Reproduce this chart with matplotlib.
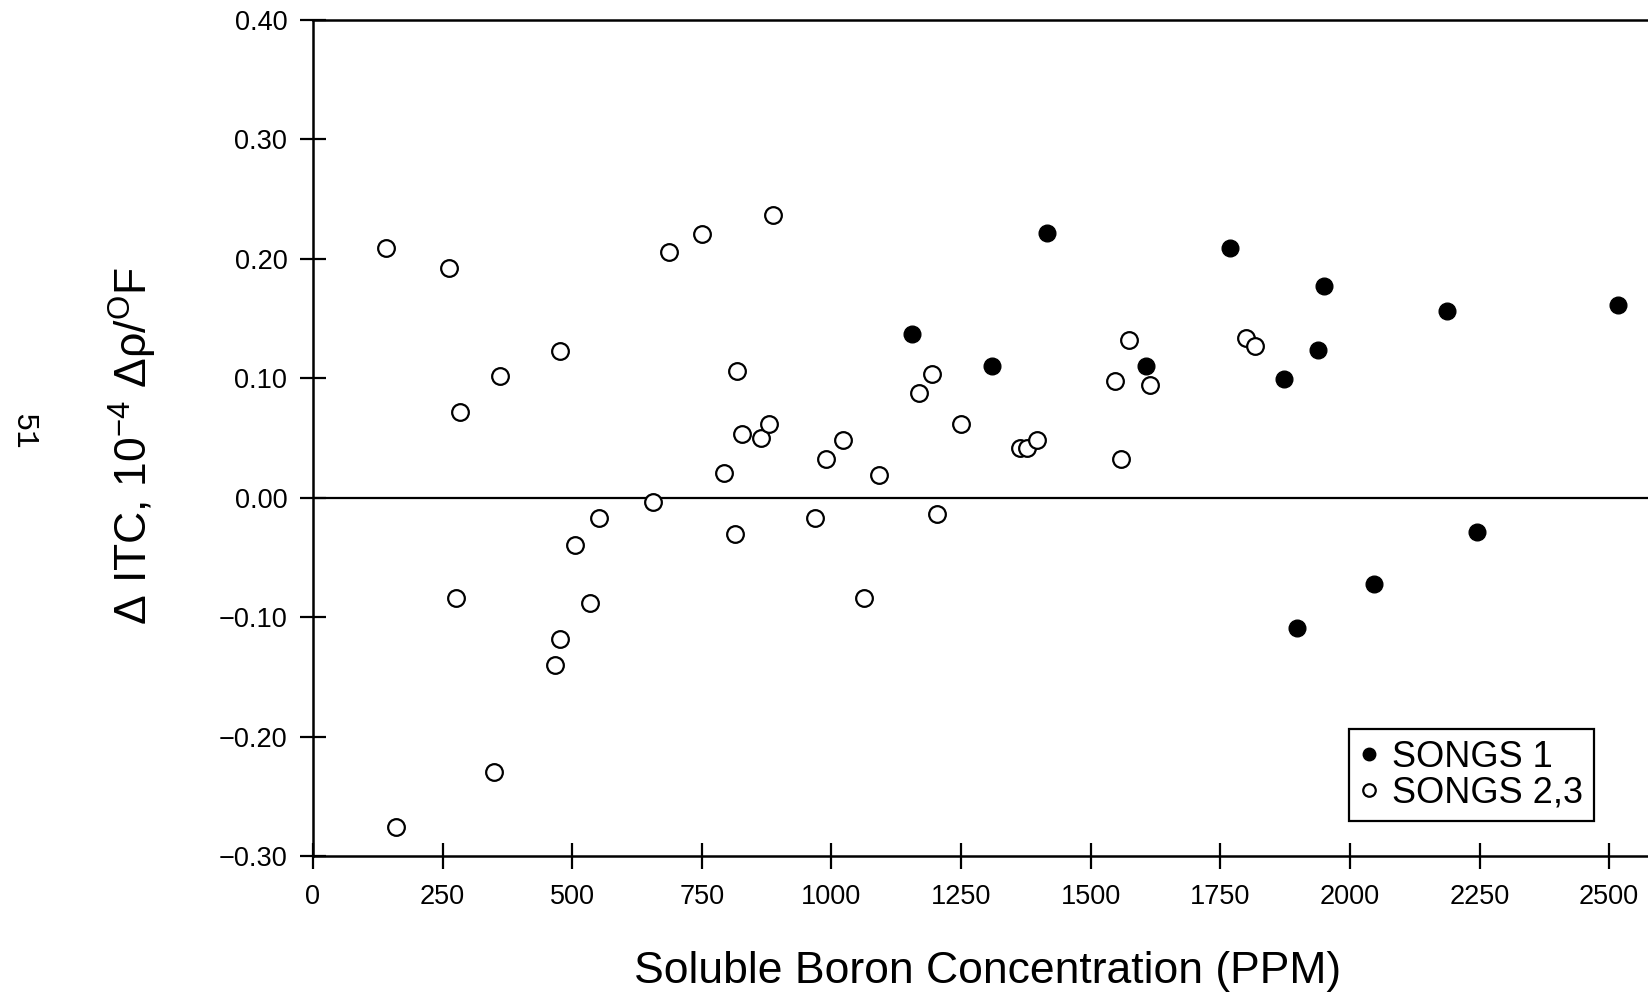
import matplotlib.pyplot as plt

# SONGS 1 (filled) and SONGS 2,3 (open)
songs1_ppm = [1155, 1310, 1416, 1606, 1768, 1872, 1898, 1939, 1950, 2046, 2188, 2245, 2518]
songs1_itc = [0.137, 0.110, 0.222, 0.110, 0.209, 0.099, -0.109, 0.124, 0.177, -0.072, 0.156, -0.029, 0.161]

songs23_ppm = [141, 160, 263, 275, 284, 350, 360, 466, 476, 476, 505, 534, 552, 655, 686,
               750, 793, 814, 817, 828, 864, 879, 888, 968, 990, 1022, 1062, 1092, 1169, 1193,
               1204, 1250, 1364, 1377, 1397, 1546, 1559, 1574, 1615, 1799, 1817]
songs23_itc = [0.209, -0.276, 0.192, -0.084, 0.072, -0.230, 0.102, -0.140, 0.123, -0.118, -0.040, -0.088, -0.017, -0.004, 0.206,
               0.221, 0.021, -0.030, 0.106, 0.053, 0.050, 0.062, 0.237, -0.017, 0.032, 0.048, -0.084, 0.019, 0.088, 0.104,
               -0.014, 0.062, 0.042, 0.042, 0.048, 0.098, 0.032, 0.132, 0.094, 0.134, 0.127]

xticks = [0, 250, 500, 750, 1000, 1250, 1500, 1750, 2000, 2250, 2500]
yticks = [-0.30, -0.20, -0.10, 0.00, 0.10, 0.20, 0.30, 0.40]

plt.rcParams['font.family'] = ['Liberation Sans', 'DejaVu Sans']
plt.rcParams['mathtext.fontset'] = 'custom'
plt.rcParams['mathtext.rm'] = 'Liberation Sans'
plt.rcParams['mathtext.it'] = 'Liberation Sans'

fig = plt.figure(figsize=(16.48, 9.94), dpi=100)
ax = fig.add_axes([313/1648, 138/994, 1335/1648, 836/994])

h23, = ax.plot(songs23_ppm, songs23_itc, 'o', ls='none', mfc='white', mec='black',
               ms=12, mew=1.6, label='SONGS 2,3', zorder=3)
h1, = ax.plot(songs1_ppm, songs1_itc, 'o', ls='none', mfc='black', mec='black',
              ms=12, mew=1.0, label='SONGS 1', zorder=3)
ax.axhline(0, color='black', lw=1.6, zorder=2)

ax.set_xlim(0, 2575)
ax.set_ylim(-0.30, 0.40)
ax.set_xticks(xticks)
ax.set_xticklabels([str(v) for v in xticks])
ax.set_yticks(yticks)
ax.set_yticklabels([f'{v:.2f}'.replace('-', '\u2212') for v in yticks])

for s in ['top', 'left', 'bottom']:
    ax.spines[s].set_linewidth(1.8)
ax.spines['right'].set_visible(False)

ax.tick_params(direction='inout', length=19, width=1.6, labelsize=19.5)
ax.tick_params(axis='y', pad=9)
ax.tick_params(axis='x', pad=11)

ax.set_ylabel(r'$\Delta$ ITC, 10$^{-4}$ $\Delta\rho/^{\mathrm{O}}$F', fontsize=32)
ax.yaxis.set_label_coords(-0.115, 0.49)
ax.set_xlabel('Soluble Boron Concentration (PPM)', fontsize=32)
ax.xaxis.set_label_coords(0.505, -0.114)

leg = ax.legend(handles=[h1, h23], loc='upper left', bbox_to_anchor=(0.776, 0.152),
                borderaxespad=0, fancybox=False, edgecolor='black', fontsize=26,
                handlelength=0.5, handletextpad=0.4, borderpad=0.3, labelspacing=0.02,
                markerscale=0.75, framealpha=1)
leg.get_frame().set_linewidth(1.6)

fig.text(23/1648, 1 - 431/994, '51', rotation=-90, fontsize=22,
         family='Liberation Mono', ha='center', va='center')

fig.savefig('out.png', dpi=100)
